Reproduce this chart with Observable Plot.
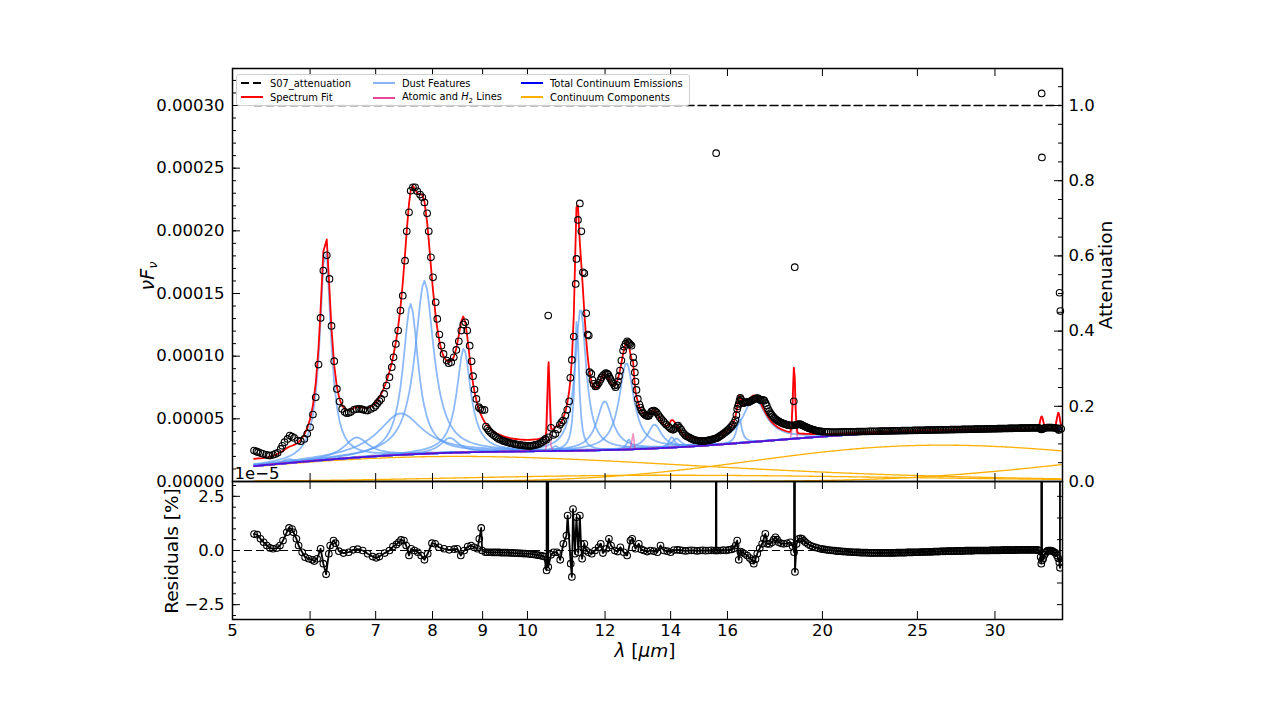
<!DOCTYPE html>
<html><head><meta charset="utf-8">
<script src="https://cdn.jsdelivr.net/npm/d3@7"></script>
<script src="https://cdn.jsdelivr.net/npm/@observablehq/plot@0.6"></script>
<style>
body{margin:0;background:#fff;}
#wrap{position:relative;width:1275px;height:719px;background:#fff;font-family:"DejaVu Sans",sans-serif;color:#000;}
#wrap svg{position:absolute;left:0;overflow:visible;}
.lab{position:absolute;white-space:nowrap;font-size:18.5px;line-height:1;}
.rot{transform:translate(-50%,-50%) rotate(-90deg);}
#legend{position:absolute;left:236px;top:74px;width:452px;height:30px;border:1px solid #cfcfcf;border-radius:3px;background:rgba(255,255,255,0.85);font-size:9.9px;}
#legend .it{position:absolute;display:flex;align-items:center;white-space:nowrap;}
#legend svg{position:static;margin-right:7px;}
</style></head><body>
<div id="wrap"></div>
<script>
// ---------------- observed spectrum (flux in units of 1e-5) ----------------
const obsWaveSL = [5.26,5.29,5.31,5.34,5.37,5.41,5.44,5.46,5.50,5.53,5.56,5.60,5.62,5.65,5.69,5.72,5.75,5.78,5.83,5.87,5.92,5.96,6.00,6.04,6.08,6.12,6.15,6.19,6.24,6.28,6.31,6.35,6.39,6.43,6.47,6.51,6.54,6.57,6.60,6.65,6.69,6.73,6.77,6.80,6.84,6.87,6.92,6.97,7.00,7.03,7.06,7.09,7.14,7.18,7.23,7.27,7.30,7.34,7.38,7.42,7.46,7.50,7.53,7.57,7.60,7.64,7.68,7.72,7.77,7.81,7.85,7.90,7.93,7.97,8.01,8.06,8.09,8.13,8.17,8.21,8.27,8.31,8.36,8.41,8.46,8.51,8.56,8.60,8.64,8.68,8.73,8.77,8.80,8.83,8.87,8.92,8.95,8.99,9.04,9.07,9.10,9.13,9.16,9.20,9.24,9.28,9.31,9.35,9.39,9.43,9.46,9.50,9.54,9.58,9.61,9.65,9.69,9.72,9.76,9.80,9.84,9.88,9.92,9.96,10.00,10.04,10.07,10.11,10.15,10.19,10.23,10.27,10.31,10.35,10.39,10.43,10.45,10.50,10.51,10.57,10.62,10.68,10.74,10.79,10.83,10.87,10.93,10.98,11.03,11.06,11.10,11.15,11.20,11.22,11.26,11.31,11.35,11.39,11.43,11.48,11.52,11.55,11.57,11.62,11.65,11.68,11.73,11.76,11.79,11.83,11.87,11.90,11.94,11.98,12.02,12.06,12.09,12.12,12.15,12.19,12.23,12.27,12.30,12.34,12.37,12.40,12.43,12.47,12.52,12.55,12.59,12.64,12.67,12.70,12.73,12.77,12.82,12.84,12.87,12.89,12.92,12.96,13.01,13.04,13.07,13.11,13.15,13.19,13.23,13.27,13.30,13.34,13.38,13.42,13.46,13.50,13.55,13.60,13.65,13.70,13.76,13.81,13.86,13.92,13.97,14.02,14.08,14.12,14.17,14.21,14.25];
const obsFluxSL = [2.47,2.40,2.34,2.27,2.21,2.13,2.09,2.07,2.13,2.20,2.29,2.60,2.85,3.14,3.40,3.67,3.58,3.48,3.27,3.22,3.40,3.80,4.33,5.34,6.72,9.33,13.05,16.83,18.05,16.16,12.41,9.60,7.39,6.38,5.79,5.55,5.45,5.48,5.55,5.72,5.78,5.79,5.77,5.72,5.68,5.66,5.79,5.90,6.05,6.25,6.42,6.59,6.99,7.65,8.32,9.12,9.91,10.98,12.04,13.64,14.83,17.62,19.96,21.48,23.20,23.47,23.47,23.15,22.89,22.67,22.27,21.40,19.96,17.89,16.29,14.30,12.97,11.72,10.84,10.18,9.65,9.44,9.52,9.91,10.50,11.19,12.04,12.52,12.70,12.04,10.84,9.59,8.40,7.34,6.59,5.93,5.80,5.71,5.71,4.39,4.22,4.07,3.94,3.80,3.70,3.59,3.50,3.40,3.33,3.27,3.22,3.18,3.14,3.09,3.06,3.03,3.00,2.98,2.95,2.93,2.91,2.89,2.87,2.86,2.85,2.84,2.84,2.86,2.89,2.92,2.95,3.00,3.07,3.14,3.26,3.40,3.32,13.24,3.53,4.28,3.72,3.80,4.15,4.52,4.70,4.86,5.26,5.72,6.40,8.27,9.70,11.56,15.76,17.76,20.87,22.19,19.96,16.69,16.61,13.42,11.72,11.64,8.72,8.58,8.10,7.79,7.58,7.62,7.73,7.90,8.11,8.30,8.45,8.55,8.64,8.60,8.53,8.35,8.19,8.00,7.84,7.65,7.52,7.70,8.00,8.40,8.85,9.65,10.45,10.75,10.98,11.19,11.10,11.03,10.95,10.84,9.91,9.44,8.70,7.97,7.31,6.59,6.14,5.90,5.66,5.52,5.40,5.30,5.24,5.22,5.24,5.40,5.58,5.64,5.66,5.60,5.50,5.32,5.13,4.97,4.81,4.66,4.52,4.40,4.28,4.18,4.12,4.18,4.28,4.42,4.47];
const obsWaveLL = [14.30,14.35,14.40,14.45,14.50,14.55,14.60,14.65,14.70,14.75,14.80,14.85,14.90,14.95,15.00,15.05,15.10,15.15,15.20,15.25,15.30,15.35,15.40,15.45,15.50,15.55,15.58,15.60,15.65,15.70,15.75,15.80,15.85,15.90,15.95,16.00,16.05,16.10,16.15,16.20,16.25,16.30,16.34,16.37,16.40,16.43,16.46,16.49,16.52,16.55,16.60,16.65,16.70,16.75,16.80,16.85,16.90,16.95,17.00,17.05,17.10,17.15,17.20,17.25,17.30,17.35,17.40,17.45,17.50,17.55,17.60,17.65,17.70,17.75,17.80,17.85,17.90,17.95,18.00,18.05,18.10,18.15,18.20,18.25,18.30,18.35,18.40,18.45,18.50,18.55,18.60,18.65,18.70,18.74,18.78,18.82,18.86,18.90,18.95,19.00,19.05,19.10,19.15,19.20,19.25,19.30,19.35,19.40,19.45,19.50,19.55,19.60,19.65,19.70,19.75,19.80,19.85,19.90,19.95,20.00];
const obsFluxLL = [4.28,4.15,3.95,3.80,3.68,3.60,3.55,3.48,3.42,3.37,3.32,3.29,3.27,3.25,3.23,3.22,3.22,3.23,3.25,3.27,3.28,3.30,3.33,3.36,3.40,3.43,26.20,3.46,3.52,3.60,3.67,3.74,3.82,3.90,3.98,4.08,4.17,4.28,4.40,4.52,4.68,4.90,5.30,5.79,6.00,6.19,6.45,6.67,6.55,6.40,6.25,6.28,6.33,6.34,6.33,6.36,6.42,6.48,6.52,6.58,6.62,6.66,6.64,6.55,6.48,6.50,6.52,6.45,6.25,6.05,5.80,5.62,5.45,5.32,5.20,5.10,5.00,4.92,4.85,4.80,4.74,4.70,4.65,4.61,4.58,4.55,4.52,4.50,4.48,4.47,4.47,4.48,6.40,17.10,4.50,4.52,4.54,4.56,4.57,4.55,4.51,4.47,4.42,4.38,4.34,4.30,4.26,4.23,4.20,4.17,4.14,4.12,4.09,4.07,4.05,4.03,4.01,4.00,3.99,3.98];
const obsWaveLL2 = [20.1,20.2,20.3,20.4,20.5,20.6,20.7,20.8,20.9,21.0,21.1,21.2,21.3,21.4,21.5,21.6,21.7,21.8,21.9,22.0,22.1,22.2,22.3,22.4,22.5,22.6,22.7,22.8,22.9,23.0,23.1,23.2,23.3,23.4,23.5,23.6,23.7,23.8,23.9,24.0,24.1,24.2,24.3,24.4,24.5,24.6,24.7,24.8,24.9,25.0,25.1,25.2,25.3,25.4,25.5,25.6,25.7,25.8,25.9,26.0,26.1,26.2,26.3,26.4,26.5,26.6,26.7,26.8,26.9,27.0,27.1,27.2,27.3,27.4,27.5,27.6,27.7,27.8,27.9,28.0,28.1,28.2,28.3,28.4,28.5,28.6,28.7,28.8,28.9,29.0,29.1,29.2,29.3,29.4,29.5,29.6,29.7,29.8,29.9,30.0,30.1,30.2,30.3,30.4,30.5,30.6,30.7,30.8,30.9,31.0,31.1,31.2,31.3,31.4,31.5,31.6,31.7,31.8,31.9,32.0,32.1,32.2,32.3,32.4,32.5,32.6,32.7,32.8,32.9,33.0,33.1,33.2,33.3,33.4,33.45,33.48,33.50,33.55,33.6,33.7,33.8,33.9,34.0,34.1,34.2,34.3,34.4,34.5,34.6,34.7,34.8,34.85,34.92,34.98,35.05];
const obsFluxLL2 = [3.97,3.96,3.96,3.95,3.95,3.95,3.95,3.95,3.96,3.96,3.96,3.96,3.97,3.97,3.97,3.97,3.98,3.98,3.98,3.99,3.99,3.99,4.00,4.00,4.00,4.01,4.01,4.01,4.02,4.02,4.02,4.03,4.03,4.03,4.04,4.04,4.04,4.05,4.05,4.05,4.06,4.06,4.06,4.06,4.07,4.07,4.07,4.08,4.08,4.08,4.09,4.09,4.09,4.09,4.10,4.10,4.10,4.11,4.11,4.11,4.11,4.12,4.12,4.12,4.12,4.13,4.13,4.13,4.13,4.14,4.14,4.14,4.14,4.15,4.15,4.15,4.15,4.16,4.16,4.16,4.16,4.17,4.17,4.17,4.17,4.18,4.18,4.18,4.18,4.19,4.19,4.19,4.19,4.20,4.20,4.20,4.20,4.21,4.21,4.21,4.21,4.22,4.22,4.22,4.22,4.23,4.23,4.23,4.23,4.24,4.24,4.24,4.24,4.25,4.25,4.25,4.25,4.26,4.26,4.26,4.26,4.27,4.27,4.27,4.27,4.28,4.28,4.28,4.28,4.28,4.28,4.28,4.27,4.20,4.15,30.96,25.86,4.18,4.22,4.27,4.29,4.30,4.30,4.30,4.30,4.30,4.29,4.28,4.27,4.25,4.18,4.10,15.06,13.60,4.20];

// ---------------- residuals ----------------
const resWave = [5.26,5.30,5.34,5.38,5.42,5.46,5.50,5.55,5.59,5.63,5.68,5.71,5.75,5.77,5.81,5.84,5.89,5.93,5.98,6.03,6.06,6.10,6.15,6.19,6.23,6.27,6.29,6.34,6.37,6.42,6.49,6.57,6.64,6.71,6.79,6.87,6.95,7.01,7.06,7.15,7.23,7.29,7.35,7.39,7.43,7.48,7.52,7.57,7.61,7.67,7.73,7.79,7.85,7.91,7.99,8.05,8.12,8.22,8.32,8.42,8.48,8.55,8.62,8.69,8.76,8.82,8.89,8.93,8.97,8.99,9.06,9.10,9.15,9.20,9.25,9.30,9.35,9.40,9.45,9.50,9.55,9.60,9.65,9.70,9.75,9.80,9.85,9.90,9.95,10.00,10.05,10.10,10.15,10.20,10.25,10.30,10.35,10.40,10.46,10.48,10.50,10.57,10.63,10.72,10.80,10.88,10.96,10.99,11.07,11.10,11.13,11.18,11.22,11.27,11.31,11.34,11.37,11.43,11.48,11.54,11.63,11.72,11.82,11.88,11.94,12.04,12.11,12.17,12.28,12.36,12.44,12.54,12.64,12.74,12.79,12.89,12.99,13.07,13.15,13.25,13.35,13.46,13.57,13.67,13.78,13.89,14.00,14.11,14.22,14.30,14.40,14.50,14.60,14.70,14.80,14.90,15.00,15.10,15.20,15.30,15.40,15.50,15.57,15.58,15.59,15.65,15.75,15.85,15.95,16.05,16.15,16.25,16.31,16.37,16.43,16.49,16.56,16.66,16.76,16.86,16.96,17.02,17.09,17.16,17.26,17.36,17.43,17.49,17.56,17.66,17.77,17.84,17.91,17.98,18.05,18.15,18.26,18.40,18.55,18.65,18.71,18.73,18.75,18.82,18.92,19.00,19.07,19.15,19.22,19.33,19.44,19.55,19.67,19.79,19.91];
const resValue = [0.76,0.73,0.54,0.38,0.23,0.12,0.08,0.11,0.23,0.46,0.84,1.04,0.99,0.84,0.54,0.23,-0.08,-0.31,-0.38,-0.43,-0.49,-0.38,0.08,-0.61,-1.10,-0.15,0.23,0.46,0.34,-0.03,-0.12,-0.08,0.03,0.06,0.00,-0.15,-0.28,-0.34,-0.28,-0.12,0.00,0.18,0.28,0.38,0.49,0.46,0.23,-0.23,0.08,0.00,-0.08,-0.23,-0.43,-0.15,0.34,0.31,0.15,0.08,0.03,0.06,0.08,-0.23,0.00,0.18,0.23,0.15,0.08,0.54,1.04,0.00,-0.08,-0.08,-0.08,-0.09,-0.09,-0.09,-0.09,-0.10,-0.10,-0.10,-0.10,-0.11,-0.11,-0.12,-0.12,-0.13,-0.13,-0.14,-0.14,-0.15,-0.16,-0.17,-0.18,-0.20,-0.21,-0.23,-0.25,-0.28,-0.92,60,-0.76,-0.20,-0.08,-0.08,-0.43,0.31,0.69,1.61,-0.61,-1.22,1.91,-0.15,1.53,-0.08,1.61,0.31,-0.38,0.31,0.00,-0.08,-0.15,0.00,0.15,0.31,-0.12,0.08,0.54,0.23,0.00,-0.05,0.15,-0.08,-0.23,0.46,0.54,0.08,0.31,0.05,0.00,-0.05,0.00,-0.03,-0.08,0.23,0.00,-0.03,-0.08,0.02,0.03,0.02,0.00,-0.02,0.00,0.01,0.00,-0.02,0.00,0.01,-0.01,0.00,0.01,0.00,0.00,60,0.00,0.00,0.00,0.02,0.00,0.03,0.05,0.10,0.23,0.46,-0.43,-0.05,-0.08,-0.15,-0.23,-0.35,-0.46,-0.61,-0.40,-0.15,0.10,0.31,0.55,0.77,0.31,0.30,0.38,0.50,0.61,0.50,0.38,0.33,0.31,0.33,0.38,0.20,-0.08,60,-0.99,0.30,0.54,0.56,0.54,0.45,0.38,0.30,0.23,0.18,0.14,0.11,0.08];
const resWave2 = [20.0,20.1,20.2,20.3,20.4,20.5,20.6,20.7,20.8,20.9,21.0,21.1,21.2,21.3,21.4,21.5,21.6,21.7,21.8,21.9,22.0,22.1,22.2,22.3,22.4,22.5,22.6,22.7,22.8,22.9,23.0,23.1,23.2,23.3,23.4,23.5,23.6,23.7,23.8,23.9,24.0,24.1,24.2,24.3,24.4,24.5,24.6,24.7,24.8,24.9,25.0,25.1,25.2,25.3,25.4,25.5,25.6,25.7,25.8,25.9,26.0,26.1,26.2,26.3,26.4,26.5,26.6,26.7,26.8,26.9,27.0,27.1,27.2,27.3,27.4,27.5,27.6,27.7,27.8,27.9,28.0,28.1,28.2,28.3,28.4,28.5,28.6,28.7,28.8,28.9,29.0,29.1,29.2,29.3,29.4,29.5,29.6,29.7,29.8,29.9,30.0,30.1,30.2,30.3,30.4,30.5,30.6,30.7,30.8,30.9,31.0,31.1,31.2,31.3,31.4,31.5,31.6,31.7,31.8,31.9,32.0,32.1,32.2,32.3,32.4,32.5,32.6,32.7,32.8,32.9,33.0,33.1,33.2,33.3,33.4,33.45,33.48,33.51,33.6,33.7,33.8,33.9,34.0,34.1,34.2,34.3,34.4,34.5,34.6,34.7,34.8,34.9,34.95,34.97];
const resValue2 = [0.06,0.05,0.03,0.02,0.01,0.00,-0.01,-0.03,-0.03,-0.04,-0.05,-0.05,-0.06,-0.07,-0.07,-0.08,-0.08,-0.09,-0.09,-0.10,-0.10,-0.10,-0.10,-0.11,-0.11,-0.11,-0.11,-0.11,-0.11,-0.11,-0.11,-0.11,-0.11,-0.11,-0.11,-0.11,-0.11,-0.11,-0.10,-0.10,-0.10,-0.10,-0.10,-0.10,-0.09,-0.09,-0.09,-0.09,-0.08,-0.08,-0.08,-0.08,-0.07,-0.07,-0.07,-0.07,-0.06,-0.06,-0.06,-0.06,-0.05,-0.05,-0.05,-0.05,-0.04,-0.04,-0.04,-0.04,-0.03,-0.03,-0.03,-0.03,-0.03,-0.03,-0.02,-0.02,-0.02,-0.02,-0.02,-0.02,-0.01,-0.01,-0.01,-0.01,-0.01,-0.01,0.00,0.00,0.00,0.00,0.00,0.00,0.00,0.00,0.00,0.00,0.00,0.01,0.01,0.01,0.01,0.01,0.01,0.01,0.01,0.02,0.02,0.02,0.02,0.02,0.02,0.02,0.02,0.02,0.02,0.03,0.03,0.03,0.03,0.03,0.03,0.03,0.03,0.03,0.03,0.03,0.03,0.03,0.03,0.03,0.03,0.03,0.02,0.00,-0.30,-0.61,60,-0.46,-0.38,-0.20,-0.10,-0.03,0.00,0.00,0.00,-0.02,-0.05,-0.08,-0.12,-0.23,-0.35,-0.55,-0.80,60];

// ---------------- fitted model parameters ----------------
// dust features (Drude): centre [um], FWHM [um], peak above continuum [1e-5]
const featCenter = [5.27,5.70,6.22,6.69,7.42,7.60,7.85,8.33,8.61,10.68,11.23,11.33,11.99,12.62,12.69,13.48,14.04,14.19,16.45,17.04];
const featFWHM   = [0.18,0.20,0.19,0.47,0.94,0.33,0.42,0.42,0.34,0.21,0.135,0.36,0.54,0.53,0.16,0.54,0.23,0.36,0.23,1.11];
const featPeak   = [0.15,0.30,17.2,1.6,3.3,12.0,13.8,1.2,8.3,0.4,10.5,11.3,3.9,6.9,0.8,1.9,0.85,0.7,2.0,3.5];
// atomic / H2 lines (Gaussian)
const lineCenter = [10.51,12.81,18.71,33.48,34.82];
const lineFWHM   = [0.06,0.07,0.12,0.30,0.30];
const linePeak   = [5.8,1.3,5.3,1.0,1.3];
// continuum components: peak wavelength [um], emissivity index, peak height [1e-5]
const compPeakWave = [8.5,26.5,60,14];
const compIndex    = [4,5,4,4];
const compPeak     = [2.0,2.9,2.6,0.5];
// attenuation (S07)
const attWave  = [5.26,35.0];
const attValue = [1.0,1.0];
// axes
const xTicks = [5,6,7,8,9,10,12,14,16,20,25,30];
const fluxTicks = [0,5,10,15,20,25,30];
const attTicks = [0,0.2,0.4,0.6,0.8,1.0];
const resTicks = [-2.5,0,2.5];

// ---------------- build model on the data wavelength grid ----------------
const obs = obsWaveSL.map((w,i)=>({w, v: obsFluxSL[i]}))
  .concat(obsWaveLL.map((w,i)=>({w, v: obsFluxLL[i]})))
  .concat(obsWaveLL2.map((w,i)=>({w, v: obsFluxLL2[i]})));
const res = resWave.map((w,i)=>({w, v: resValue[i]})).concat(resWave2.map((w,i)=>({w, v: resValue2[i]})));
const grid = Array.from(new Set(obs.map(d=>d.w))).sort((a,b)=>a-b);
function xpeak(n){let x=n;for(let i=0;i<60;i++)x=n*(1-Math.exp(-x));return x;}
function bb(l,lp,n){const xp=xpeak(n),x=xp*lp/l;return (Math.pow(x,n)/(Math.exp(x)-1))/(Math.pow(xp,n)/(Math.exp(xp)-1));}
function drude(l,c,f,p){const g=f/c,d=l/c-c/l;return p*g*g/(d*d+g*g);}
function gauss(l,c,f,p){const s=f/2.3548;return p*Math.exp(-0.5*((l-c)/s)**2);}
const compRows=[], featRows=[], lineRows=[], contRows=[], fitRows=[];
grid.forEach(w=>{
  let c=0;
  compPeakWave.forEach((lp,k)=>{const v=compPeak[k]*bb(w,lp,compIndex[k]);c+=v;compRows.push({w,v,k});});
  contRows.push({w,v:c});
  let f=c;
  featCenter.forEach((fc,k)=>{const v=drude(w,fc,featFWHM[k],featPeak[k]);f+=v;featRows.push({w,v:c+v,k});});
  lineCenter.forEach((lc,k)=>{const v=gauss(w,lc,lineFWHM[k],linePeak[k]);f+=v;lineRows.push({w,v:c+v,k});});
  fitRows.push({w,v:f});
});

// ---------------- layout ----------------
const W=1275, ML=232, MR=213, TOP=68, MID=481, BOT=619;
const PW=W-ML-MR, PH1=MID-TOP, PH2=BOT-MID;
const fluxTop = 30*PH1/(MID-105);        // 0.00030 sits at y=105
const attTop  = 1.0*PH1/(MID-105);
const resTop  = 3.185;
const xScale = {type:"log", domain:[5,35.16], axis:null};
const style = {fontFamily:"DejaVu Sans, sans-serif", fontSize:"16.5px", background:"transparent", color:"black", overflow:"visible"};
const fmtFlux = d=>(d*1e-5).toFixed(5);
const fmtMinus = d=>d.toFixed(1).replace("-","\u2212");

const mainPlot = Plot.plot({
  width:W, height:MID, marginLeft:ML, marginRight:MR, marginTop:TOP, marginBottom:0,
  x:xScale, y:{domain:[0,fluxTop], axis:null}, style,
  marks:[
    Plot.line(compRows,{x:"w",y:"v",z:"k",stroke:"#ffb000",strokeWidth:1.3,clip:true}),
    Plot.line(featRows,{x:"w",y:"v",z:"k",stroke:"#5b9bf7",strokeOpacity:0.7,strokeWidth:1.8,clip:true}),
    Plot.line(lineRows,{x:"w",y:"v",z:"k",stroke:"#e8489a",strokeOpacity:0.6,strokeWidth:1.6}),
    Plot.line(contRows,{x:"w",y:"v",stroke:"#0000ff",strokeOpacity:0.7,strokeWidth:1.8}),
    Plot.line(fitRows,{x:"w",y:"v",stroke:"#ff0000",strokeWidth:1.8}),
    Plot.dot(obs,{x:"w",y:"v",r:3.3,stroke:"black",strokeWidth:1.1,fill:"none"}),
    Plot.ruleX(xTicks,{x:d=>d,insetTop:PH1-8,stroke:"black",strokeWidth:1}),
    Plot.ruleX(xTicks,{x:d=>d,insetBottom:PH1-8,stroke:"black",strokeWidth:1}),
    Plot.ruleY(d3.range(0,33,1),{y:d=>d,insetRight:PW-4,stroke:"black",strokeWidth:1}),
    Plot.ruleY(fluxTicks,{y:d=>d,insetRight:PW-8,stroke:"black",strokeWidth:1}),
    Plot.axisY(fluxTicks,{anchor:"left",tickSize:0,tickPadding:8,tickFormat:fmtFlux,label:null}),
    Plot.frame({stroke:"black",strokeWidth:1.5})
  ]
});
const attPlot = Plot.plot({
  width:W, height:MID, marginLeft:ML, marginRight:MR, marginTop:TOP, marginBottom:0,
  x:xScale, y:{domain:[0,attTop], axis:null}, style,
  marks:[
    Plot.line(attWave.map((w,i)=>({w,v:attValue[i]})),{x:"w",y:"v",stroke:"black",strokeWidth:1.5,strokeDasharray:"8,4"}),
    Plot.ruleY(d3.range(0,1.06,0.05),{y:d=>d,insetLeft:PW-4,stroke:"black",strokeWidth:1}),
    Plot.ruleY(attTicks,{y:d=>d,insetLeft:PW-8,stroke:"black",strokeWidth:1}),
    Plot.axisY(attTicks,{anchor:"right",tickSize:0,tickPadding:6,tickFormat:d=>d.toFixed(1),label:null})
  ]
});
const resPlot = Plot.plot({
  width:W, height:719-MID, marginLeft:ML, marginRight:MR, marginTop:0, marginBottom:719-BOT,
  x:xScale, y:{domain:[-resTop,resTop], axis:null}, style,
  marks:[
    Plot.ruleY([0],{stroke:"black",strokeWidth:1.2,strokeDasharray:"8,4"}),
    Plot.line(res,{x:"w",y:"v",stroke:"black",strokeWidth:1.8,clip:true}),
    Plot.dot(res,{x:"w",y:"v",r:3.3,stroke:"black",strokeWidth:1.1,fill:"none",clip:true}),
    Plot.ruleX(xTicks,{x:d=>d,insetTop:PH2-8,stroke:"black",strokeWidth:1}),
    Plot.ruleX(xTicks,{x:d=>d,insetBottom:PH2-8,stroke:"black",strokeWidth:1}),
    Plot.ruleY(d3.range(-3,3.01,0.5),{y:d=>d,insetRight:PW-4,stroke:"black",strokeWidth:1}),
    Plot.ruleY(resTicks,{y:d=>d,insetRight:PW-8,stroke:"black",strokeWidth:1}),
    Plot.ruleY([2.5,1.5,0.5,-0.5,-1.5,-2.5],{y:d=>d,insetLeft:PW-5,stroke:"black",strokeWidth:1}),
    Plot.axisY(resTicks,{anchor:"left",tickSize:0,tickPadding:8,tickFormat:fmtMinus,label:null}),
    Plot.axisX(xTicks,{anchor:"bottom",tickSize:0,tickPadding:5,tickFormat:d=>String(d),label:null}),
    Plot.frame({stroke:"black",strokeWidth:1.5})
  ]
});

const wrap=document.getElementById("wrap");
mainPlot.style.top="0px"; attPlot.style.top="0px"; resPlot.style.top=MID+"px";
wrap.appendChild(mainPlot); wrap.appendChild(attPlot); wrap.appendChild(resPlot);

function addLabel(html,x,y,rot,extra){const d=document.createElement("div");d.className="lab"+(rot?" rot":"");d.innerHTML=html;d.style.left=x+"px";d.style.top=y+"px";if(!rot)d.style.transform="translate(-50%,-50%)";if(extra)Object.assign(d.style,extra);wrap.appendChild(d);}
addLabel('<i>\u03bdF</i><sub style="font-size:13px;vertical-align:-3px"><i>\u03bd</i></sub>',148,276,true,{fontSize:"19px"});
addLabel('Residuals [%]',172,551,true);
addLabel('Attenuation',1106,275,true);
addLabel('<i>\u03bb</i> [<i>\u03bcm</i>]',645,651,false);
addLabel('1e\u22125',257,474,false,{fontSize:"16.5px"});

// legend
const lg=document.createElement("div");lg.id="legend";wrap.appendChild(lg);
const items=[
  ["S07_attenuation","black","8,4",0,8],
  ["Spectrum Fit","#ff0000",null,0,22],
  ["Dust Features","#8ab6f9",null,132,8],
  ['Atomic and <i>H</i><sub style="font-size:7px">2</sub> Lines',"#e8489a",null,132,22],
  ["Total Continuum Emissions","#0000ff",null,280,8],
  ["Continuum Components","#ffb000",null,280,22]
];
items.forEach(([t,c,dash,x,y])=>{
  const it=document.createElement("div");it.className="it";it.style.left=(x+4)+"px";it.style.top=(y-6)+"px";
  it.innerHTML=`<svg width="22" height="12"><line x1="0" y1="6" x2="22" y2="6" stroke="${c}" stroke-width="2" ${dash?`stroke-dasharray="${dash}"`:""}/></svg><span>${t}</span>`;
  lg.appendChild(it);
});
</script></body></html>
